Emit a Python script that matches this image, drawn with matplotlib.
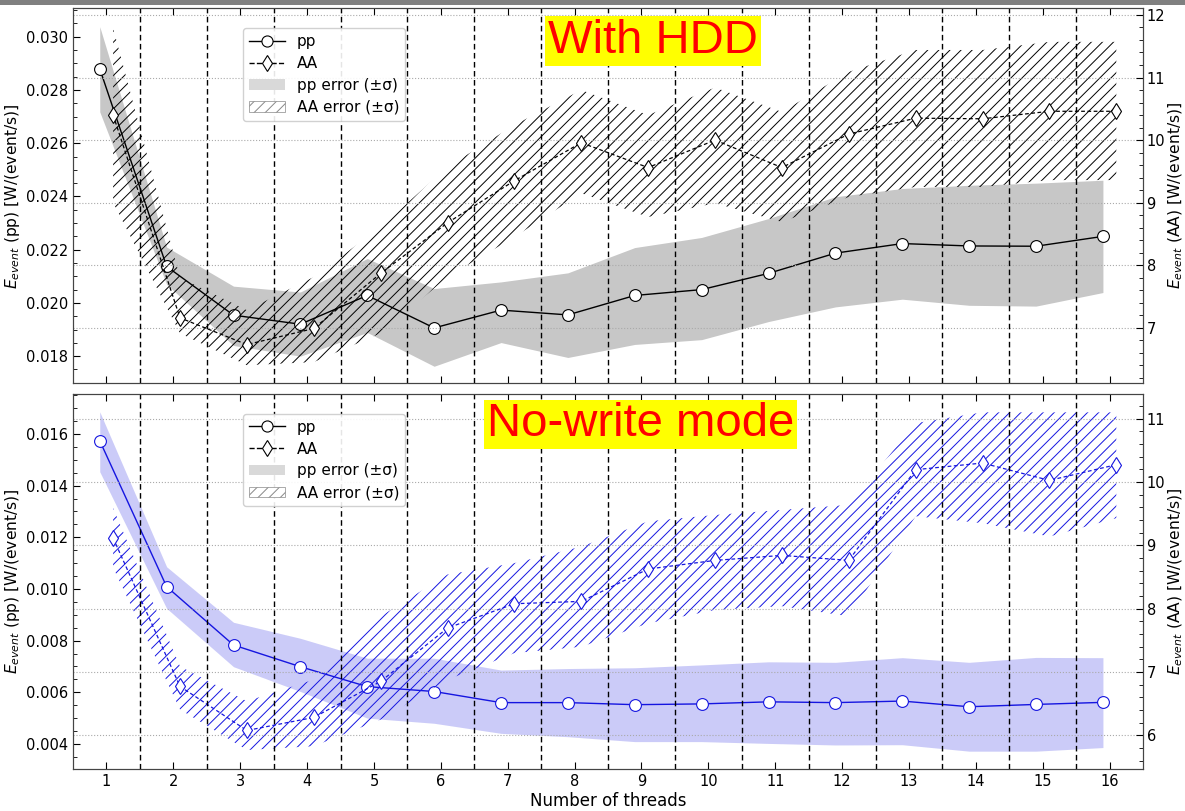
import numpy as np
import matplotlib
matplotlib.use("Agg")
import matplotlib.pyplot as plt
from matplotlib.lines import Line2D
from matplotlib.patches import Patch, Rectangle
from matplotlib.ticker import MultipleLocator, FormatStrFormatter

# data
threads = np.arange(1, 17)

hdd_pp = [0.0288, 0.02137, 0.01954, 0.0192, 0.02028, 0.01906, 0.01973, 0.01955,
          0.02028, 0.0205, 0.02111, 0.02187, 0.02223, 0.02214, 0.02213, 0.0225]
hdd_pp_lo = [0.02718, 0.0207, 0.0184, 0.0180, 0.01889, 0.01762, 0.01851, 0.01795,
             0.01844, 0.01862, 0.0193, 0.01985, 0.02014, 0.01991, 0.01988, 0.02039]
hdd_pp_hi = [0.03038, 0.0221, 0.02063, 0.02041, 0.02167, 0.02054, 0.02079, 0.02113,
             0.02208, 0.02246, 0.02317, 0.02399, 0.0243, 0.02442, 0.0245, 0.02461]
hdd_aa = [10.40, 7.157, 6.73, 6.987, 7.867, 8.677, 9.35, 9.957,
          9.56, 10.0, 9.56, 10.096, 10.35, 10.34, 10.46, 10.46]
hdd_aa_lo = [9.0, 6.91, 6.40, 6.45, 6.91, 7.81, 8.45, 9.15,
             8.77, 8.99, 8.69, 9.09, 9.25, 9.25, 9.36, 9.36]
hdd_aa_hi = [11.79, 7.8, 7.28, 7.81, 8.61, 9.57, 10.24, 10.80,
             10.40, 10.84, 10.45, 11.09, 11.44, 11.44, 11.57, 11.57]

nw_pp = [0.01574, 0.01009, 0.00783, 0.00699, 0.00622, 0.00603, 0.0056, 0.0056,
         0.00552, 0.00555, 0.00563, 0.0056, 0.00566, 0.00544, 0.00553, 0.00561]
nw_pp_lo = [0.01454, 0.00925, 0.00699, 0.00603, 0.0050, 0.0048, 0.00441, 0.00428,
            0.00409, 0.00409, 0.00402, 0.00396, 0.00397, 0.00372, 0.00372, 0.00386]
nw_pp_hi = [0.01686, 0.01086, 0.00871, 0.00809, 0.00732, 0.00732, 0.00686, 0.00692,
            0.00695, 0.00706, 0.00718, 0.00716, 0.00734, 0.00716, 0.00735, 0.00734]
nw_aa = [9.116, 6.773, 6.078, 6.284, 6.852, 7.695, 8.079, 8.116,
         8.627, 8.763, 8.842, 8.763, 10.195, 10.30, 10.026, 10.274]
nw_aa_lo = [8.65, 6.41, 5.77, 5.83, 6.25, 6.88, 7.30, 7.40,
            7.77, 7.98, 8.04, 7.88, 9.46, 9.35, 9.14, 9.43]
nw_aa_hi = [9.59, 7.09, 6.54, 6.88, 7.88, 8.54, 8.72, 8.98,
            9.38, 9.48, 9.56, 9.64, 10.93, 11.10, 11.10, 11.10]

plt.rcParams['hatch.linewidth'] = 0.7
plt.rcParams['font.size'] = 10.5


def panel(rect, pp, pp_lo, pp_hi, aa, aa_lo, aa_hi, color, ylim1, ylim2, title, tpos, bottom):
    ax = fig.add_axes(rect)
    ax2 = ax.twinx()
    x_pp = threads - 0.1
    x_aa = threads + 0.1

    ax.fill_between(x_pp, pp_lo, pp_hi, color=color, alpha=0.22, lw=0)
    ax.plot(x_pp, pp, color=color, lw=1.0, marker='o', ms=8.5, mfc='w', mec=color, mew=0.8)

    ax2.fill_between(x_aa, aa_lo, aa_hi, facecolor='none', edgecolor=color, hatch='///', lw=0)
    ax2.plot(x_aa, aa, color=color, lw=0.9, ls='--', dashes=(3, 2), marker='d', ms=8,
             mfc='w', mec=color, mew=0.8)

    for xv in threads[:-1] + 0.5:
        ax2.axvline(xv, color='k', ls='--', lw=1.0, dashes=(4, 2.5))

    ax.set_xlim(0.5, 16.5)
    ax.set_ylim(*ylim1)
    ax2.set_ylim(*ylim2)
    ax.set_xticks(threads)
    ax.yaxis.set_major_locator(MultipleLocator(0.002))
    ax.yaxis.set_minor_locator(MultipleLocator(0.0005))
    ax.yaxis.set_major_formatter(FormatStrFormatter('%.3f'))
    ax2.yaxis.set_major_locator(MultipleLocator(1))
    ax2.yaxis.set_minor_locator(MultipleLocator(0.2))
    ax2.grid(axis='y', ls=':', color='#aaaaaa', lw=0.8)

    ax.tick_params(axis='x', which='both', direction='in', top=True, length=5)
    ax.tick_params(axis='y', which='major', direction='in', length=5, labelsize=10.5)
    ax.tick_params(axis='y', which='minor', direction='in', length=3)
    ax2.tick_params(axis='y', which='major', direction='in', length=5, labelsize=10.5, pad=2.5)
    ax2.tick_params(axis='y', which='minor', direction='in', length=3)
    for a in (ax, ax2):
        for s in a.spines.values():
            s.set_color('#444444')

    ax.set_ylabel('$E_{event}$ (pp) [W/(event/s)]', fontsize=11.2, labelpad=3)
    ax2.set_ylabel('$E_{event}$ (AA) [W/(event/s)]', fontsize=11.2, labelpad=1)
    if bottom:
        ax.set_xlabel('Number of threads', fontsize=12, labelpad=2)
        ax.tick_params(axis='x', labelsize=10.5)
    else:
        ax.tick_params(axis='x', labelbottom=False)

    handles = [
        Line2D([], [], color='k', lw=1, marker='o', ms=8, mfc='w', mec='k', mew=0.8),
        Line2D([], [], color='k', lw=1, ls='--', marker='d', ms=8, mfc='w', mec='k', mew=0.8),
        Patch(facecolor='#d9d9d9', edgecolor='none'),
        Patch(facecolor='w', edgecolor='#888888', hatch='///', lw=0.5),
    ]
    labels = ['pp', 'AA', 'pp error (±σ)', 'AA error (±σ)']
    ax2.legend(handles, labels, loc='upper left', bbox_to_anchor=(0.152, 0.968),
               fontsize=11, handlelength=2.3, labelspacing=0.45, framealpha=0.9,
               edgecolor='#cccccc')

    ax2.text(tpos[0], tpos[1], title, transform=ax2.transAxes, ha='center', va='center',
             fontsize=34, color='red', family='Liberation Sans',
             bbox=dict(boxstyle='square,pad=0.06', facecolor='yellow', edgecolor='none'))
    return ax, ax2


fig = plt.figure(figsize=(11.85, 8.11), dpi=100)
fig.add_artist(Rectangle((0, 1 - 5 / 811), 1, 5 / 811, transform=fig.transFigure,
                         facecolor='#808080', edgecolor='none'))

panel([0.0616, 0.5277, 0.903, 0.4621], hdd_pp, hdd_pp_lo, hdd_pp_hi,
      hdd_aa, hdd_aa_lo, hdd_aa_hi, 'black', (0.01699, 0.03107), (6.115, 12.107),
      'With HDD', (0.542, 0.913), False)
panel([0.0616, 0.0518, 0.903, 0.4624], nw_pp, nw_pp_lo, nw_pp_hi,
      nw_aa, nw_aa_lo, nw_aa_hi, '#1515e0', (0.00303, 0.01755), (5.47, 11.39),
      'No-write mode', (0.530, 0.919), True)

fig.savefig('out.png', dpi=100)
